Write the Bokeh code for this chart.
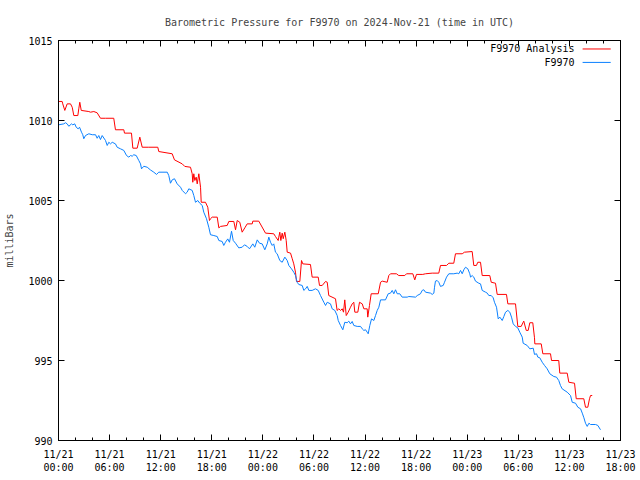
from bokeh.plotting import figure
from bokeh.models import Range1d, LinearAxis, FixedTicker, Label, CustomLabelingPolicy
from bokeh.embed import file_html
from bokeh.resources import INLINE

FONT = "DejaVu Sans Mono"

# hours since 2024-11-21 00:00 UTC
red_hours = [0.00,0.43,0.50,0.74,1.02,1.41,1.61,1.80,2.27,2.38,2.50,2.67,3.56,3.76,4.15,4.54,4.93,5.52,6.49,6.69,
             7.67,7.75,8.57,8.73,9.24,9.55,9.83,10.60,11.66,11.78,13.35,13.62,14.53,14.83,15.50,15.70,15.77,15.89,16.01,16.17,
             16.29,16.48,16.68,16.76,17.26,17.53,17.73,17.85,18.05,18.64,18.83,19.03,19.81,20.00,20.59,20.79,20.99,21.29,21.57,21.88,
             22.16,22.75,22.82,23.52,24.31,25.28,25.48,25.80,25.87,25.99,26.11,26.27,26.39,26.58,26.74,26.86,27.25,27.45,27.63,27.83,
             27.95,28.34,28.54,28.69,29.59,29.79,30.50,30.65,30.97,31.36,31.56,31.74,32.53,32.72,32.92,33.12,33.32,33.47,33.62,33.79,
             34.02,34.29,34.49,34.68,34.80,35.15,35.35,35.67,35.86,36.25,36.32,36.52,36.72,37.55,37.82,38.02,38.60,38.79,38.99,39.69,
             39.96,40.67,40.87,41.61,41.84,42.04,42.78,43.10,43.89,44.66,44.86,45.57,45.84,46.42,46.62,47.41,47.68,48.58,48.77,49.08,
             49.24,49.56,49.76,50.65,50.82,51.32,51.52,52.61,52.77,53.67,53.94,54.34,54.57,54.64,54.93,55.16,55.35,55.70,55.90,55.94,
             56.69,56.88,57.78,57.90,58.75,58.87,59.74,59.93,60.60,60.80,61.69,61.89,62.16,62.36,62.48,62.68]
red_mbar = [1011.19,1011.19,1011.04,1010.63,1011.04,1011.04,1010.83,1010.31,1010.31,1010.73,1011.14,1010.63,1010.56,1010.52,1010.56,1010.48,1010.14,1010.14,1010.14,1009.42,
            1009.42,1009.21,1009.21,1008.27,1008.27,1008.96,1008.33,1008.33,1008.33,1008.06,1007.92,1007.54,1007.29,1007.13,1007.08,1006.67,1006.14,1006.67,1006.25,1006.46,
            1006.04,1006.67,1005.83,1004.89,1004.89,1004.58,1003.75,1003.86,1003.96,1003.96,1003.29,1003.38,1003.44,1003.69,1003.69,1003.17,1003.75,1003.64,1003.02,1003.29,
            1003.54,1003.54,1003.71,1003.71,1002.96,1002.92,1002.75,1002.50,1002.71,1003.02,1002.50,1002.96,1002.61,1003.02,1002.50,1001.77,1001.71,1001.36,1001.04,1000.52,
            999.94,999.94,1001.25,1001.04,1001.00,1000.21,1000.21,999.69,999.69,999.94,999.89,999.06,998.86,998.13,998.23,998.13,998.23,998.02,998.79,997.81,
            998.02,998.33,998.54,998.64,998.02,998.02,998.64,998.54,998.23,998.23,997.71,998.44,999.17,999.17,999.89,999.96,999.89,1000.31,1000.42,1000.42,
            1000.31,1000.31,1000.42,1000.42,1000.04,1000.38,1000.38,1000.42,1000.46,1000.46,1000.94,1000.94,1001.08,1001.08,1001.67,1001.67,1001.77,1001.81,1000.94,1000.94,
            1001.14,1001.14,1000.31,1000.31,999.89,999.83,999.13,999.13,998.54,998.54,997.13,997.13,997.39,997.46,996.88,996.88,997.36,997.36,996.42,996.04,
            996.04,995.42,995.42,995.00,995.00,994.21,994.21,993.64,993.58,992.61,992.61,992.08,992.08,992.61,992.81,992.81]

blue_hours = [0.00,0.62,0.82,1.02,1.21,1.53,1.68,1.91,2.08,2.31,2.47,2.70,2.85,2.97,3.17,3.56,3.96,4.35,4.54,4.73,
              4.93,5.13,5.52,5.72,5.91,6.11,6.31,6.69,6.89,7.28,7.67,7.99,8.26,8.46,8.66,8.84,9.13,9.43,9.63,9.75,
              10.02,10.42,10.80,11.19,11.51,11.78,12.77,12.95,13.15,13.35,13.62,13.94,14.33,14.53,14.92,15.11,15.30,15.70,15.89,16.09,
              16.36,16.59,16.88,17.06,17.38,17.65,17.85,18.24,18.64,18.83,19.22,19.41,19.61,19.88,20.08,20.32,20.52,20.79,21.17,21.57,
              21.84,22.16,22.43,22.82,23.05,23.34,23.61,23.92,24.23,24.51,24.70,24.90,25.10,25.28,25.48,25.68,25.99,26.27,26.58,26.86,
              27.05,27.36,27.63,27.83,28.03,28.22,28.62,28.81,29.01,29.21,29.40,29.79,30.18,30.50,30.77,31.16,31.36,31.56,31.94,32.14,
              32.45,32.73,32.85,33.12,33.39,33.62,33.90,34.09,34.29,34.49,34.68,35.08,35.47,35.67,35.86,36.06,36.25,36.37,36.56,36.76,
              37.03,37.23,37.43,37.62,37.82,38.40,38.72,38.99,39.19,39.38,39.58,39.78,40.08,40.36,40.95,41.14,41.93,42.13,42.51,42.71,
              42.90,43.10,43.69,43.89,44.08,44.16,44.27,44.47,44.66,44.86,45.18,45.33,45.57,45.84,46.42,46.82,47.01,47.21,47.41,47.60,
              47.80,48.07,48.30,48.39,48.58,48.77,48.97,49.36,49.56,49.76,50.15,50.35,50.54,50.82,51.05,51.20,51.44,51.64,51.83,52.11,
              52.30,52.50,52.77,53.00,53.20,53.40,53.67,53.94,54.17,54.46,54.57,55.04,55.35,55.75,55.90,56.14,56.29,56.52,56.81,57.08,
              57.39,57.70,58.17,58.48,58.75,58.95,59.15,59.74,60.13,60.33,60.72,60.99,61.31,61.51,61.70,61.89,62.09,62.29,62.48,63.07,
              63.34,63.65]
blue_mbar = [1009.73,1009.79,1009.86,1009.79,1009.64,1009.79,1009.73,1009.79,1009.58,1009.48,1009.58,1009.27,1009.11,1008.86,1009.06,1009.17,1009.11,1009.11,1008.89,1009.06,
             1008.81,1009.06,1008.75,1008.44,1008.64,1008.54,1008.64,1008.54,1008.33,1008.23,1008.13,1007.81,1007.71,1007.81,1007.77,1007.86,1007.81,1007.50,1007.29,1006.98,
             1007.14,1007.08,1006.91,1006.77,1006.63,1006.77,1006.77,1006.56,1006.08,1006.29,1006.36,1006.04,1005.83,1005.63,1005.42,1005.52,1005.73,1005.63,1005.31,1004.89,
             1005.00,1004.83,1004.69,1004.27,1003.86,1003.33,1002.86,1002.81,1002.75,1002.50,1002.44,1002.19,1002.39,1002.60,1002.39,1003.08,1002.50,1002.33,1002.04,1002.08,
             1002.23,1002.13,1001.98,1002.29,1002.08,1002.54,1002.33,1002.29,1001.92,1002.29,1002.71,1002.39,1002.19,1002.29,1001.77,1001.67,1001.25,1001.14,1001.46,1001.25,
             1000.94,1000.73,1000.52,1000.31,999.89,999.75,999.69,999.38,999.48,999.63,999.38,999.38,999.48,999.38,999.06,998.64,998.44,998.64,998.54,998.23,
             998.13,997.81,997.50,997.19,996.92,997.39,997.36,997.46,997.29,997.44,997.19,997.13,997.13,996.98,996.88,996.92,996.77,996.67,997.19,997.60,
             997.50,997.81,998.13,998.33,998.79,998.79,999.17,999.21,999.38,999.17,999.42,999.17,999.17,998.96,998.96,999.00,998.96,999.06,999.17,999.38,
             999.42,999.27,999.21,999.13,999.21,999.58,999.96,1000.00,999.89,999.63,999.69,999.89,1000.21,1000.42,1000.42,1000.46,1000.42,1000.63,1000.42,1000.67,
             1000.83,1000.73,1000.42,1000.21,1000.31,1000.21,999.96,999.83,999.79,999.38,999.27,999.21,999.06,999.06,998.92,998.64,998.33,997.60,997.71,997.50,
             997.75,998.02,998.13,998.02,997.71,997.29,997.13,997.04,996.77,996.46,996.08,995.94,995.73,995.77,995.38,995.42,995.21,995.17,994.89,994.69,
             994.48,994.17,994.00,993.96,993.75,993.44,993.23,993.02,992.81,992.39,992.33,992.08,991.98,991.71,991.42,991.08,990.88,991.08,991.00,991.00,
             990.94,990.67]

x_ticks = [0, 6, 12, 18, 24, 30, 36, 42, 48, 54, 60, 66]
x_minor_ticks = list(range(0, 67, 2))
x_tick_labels = ["11/21\n00:00", "11/21\n06:00", "11/21\n12:00", "11/21\n18:00",
                 "11/22\n00:00", "11/22\n06:00", "11/22\n12:00", "11/22\n18:00",
                 "11/23\n00:00", "11/23\n06:00", "11/23\n12:00", "11/23\n18:00"]
y_ticks = [990, 995, 1000, 1005, 1010, 1015]

title_text = "Barometric Pressure for F9970 on 2024-Nov-21 (time in UTC)"
series_names = ["F9970 Analysis", "F9970"]
series_colors = ["#ff0000", "#0a80ff"]

p = figure(width=640, height=480, output_backend="svg", toolbar_location=None,
           x_range=Range1d(0, 66), y_range=Range1d(990, 1015),
           x_axis_type=None, y_axis_type=None,
           min_border_left=58, min_border_right=20, min_border_top=40, min_border_bottom=40)
p.grid.visible = False
p.outline_line_color = "black"
p.outline_line_width = 1
p.background_fill_color = "white"
p.border_fill_color = "white"

p.title.text = title_text
p.title.align = "center"
p.title.text_font = FONT
p.title.text_font_size = "10px"
p.title.text_font_style = "normal"
p.title.standoff = 26

no_labels = CustomLabelingPolicy(code="""
for (const i of indices) { indices.unset(i) }
return indices
""")


def style_axis(ax, show_labels):
    ax.axis_line_color = "black"
    ax.major_tick_line_color = "black"
    ax.minor_tick_line_color = "black"
    ax.major_tick_out = 0
    ax.minor_tick_out = 0
    ax.major_tick_in = 6
    ax.minor_tick_in = 3
    ax.major_label_text_font = FONT
    ax.major_label_text_font_size = "10px"
    ax.major_label_text_color = "black"
    ax.axis_label_text_font = FONT
    ax.axis_label_text_font_size = "10px"
    ax.axis_label_text_font_style = "normal"
    if not show_labels:
        ax.major_label_policy = no_labels
        ax.major_label_text_font_size = "0px"
        ax.major_label_standoff = 0


x_over = {t: lab for t, lab in zip(x_ticks, x_tick_labels)}

bottom = LinearAxis(ticker=FixedTicker(ticks=x_ticks, minor_ticks=x_minor_ticks))
style_axis(bottom, True)
bottom.major_label_overrides = x_over
bottom.major_label_standoff = 8
p.add_layout(bottom, "below")

top = LinearAxis(ticker=FixedTicker(ticks=x_ticks, minor_ticks=x_minor_ticks))
style_axis(top, False)
p.add_layout(top, "above")

left = LinearAxis(ticker=FixedTicker(ticks=y_ticks, minor_ticks=[]), axis_label="milliBars")
style_axis(left, True)
left.major_label_standoff = 6
left.axis_label_standoff = 10
p.add_layout(left, "left")

right = LinearAxis(ticker=FixedTicker(ticks=y_ticks, minor_ticks=[]))
style_axis(right, False)
p.add_layout(right, "right")

p.line(red_hours, red_mbar, line_color=series_colors[0], line_width=1)
p.line(blue_hours, blue_mbar, line_color=series_colors[1], line_width=1)

# gnuplot-style key: label right-aligned, sample line to its right
key_text_x = 60.6
key_line_x0 = 61.55
key_line_x1 = 64.85
key_rows_y = [1014.47, 1013.63]
for name, color, ky in zip(series_names, series_colors, key_rows_y):
    p.add_layout(Label(x=key_text_x, y=ky, text=name, text_align="right", text_baseline="middle",
                       text_font=FONT, text_font_size="10px", text_color="black"))
    p.segment(x0=[key_line_x0], y0=[ky], x1=[key_line_x1], y1=[ky], line_color=color, line_width=1)

open("out.html", "w").write(file_html(p, INLINE))
